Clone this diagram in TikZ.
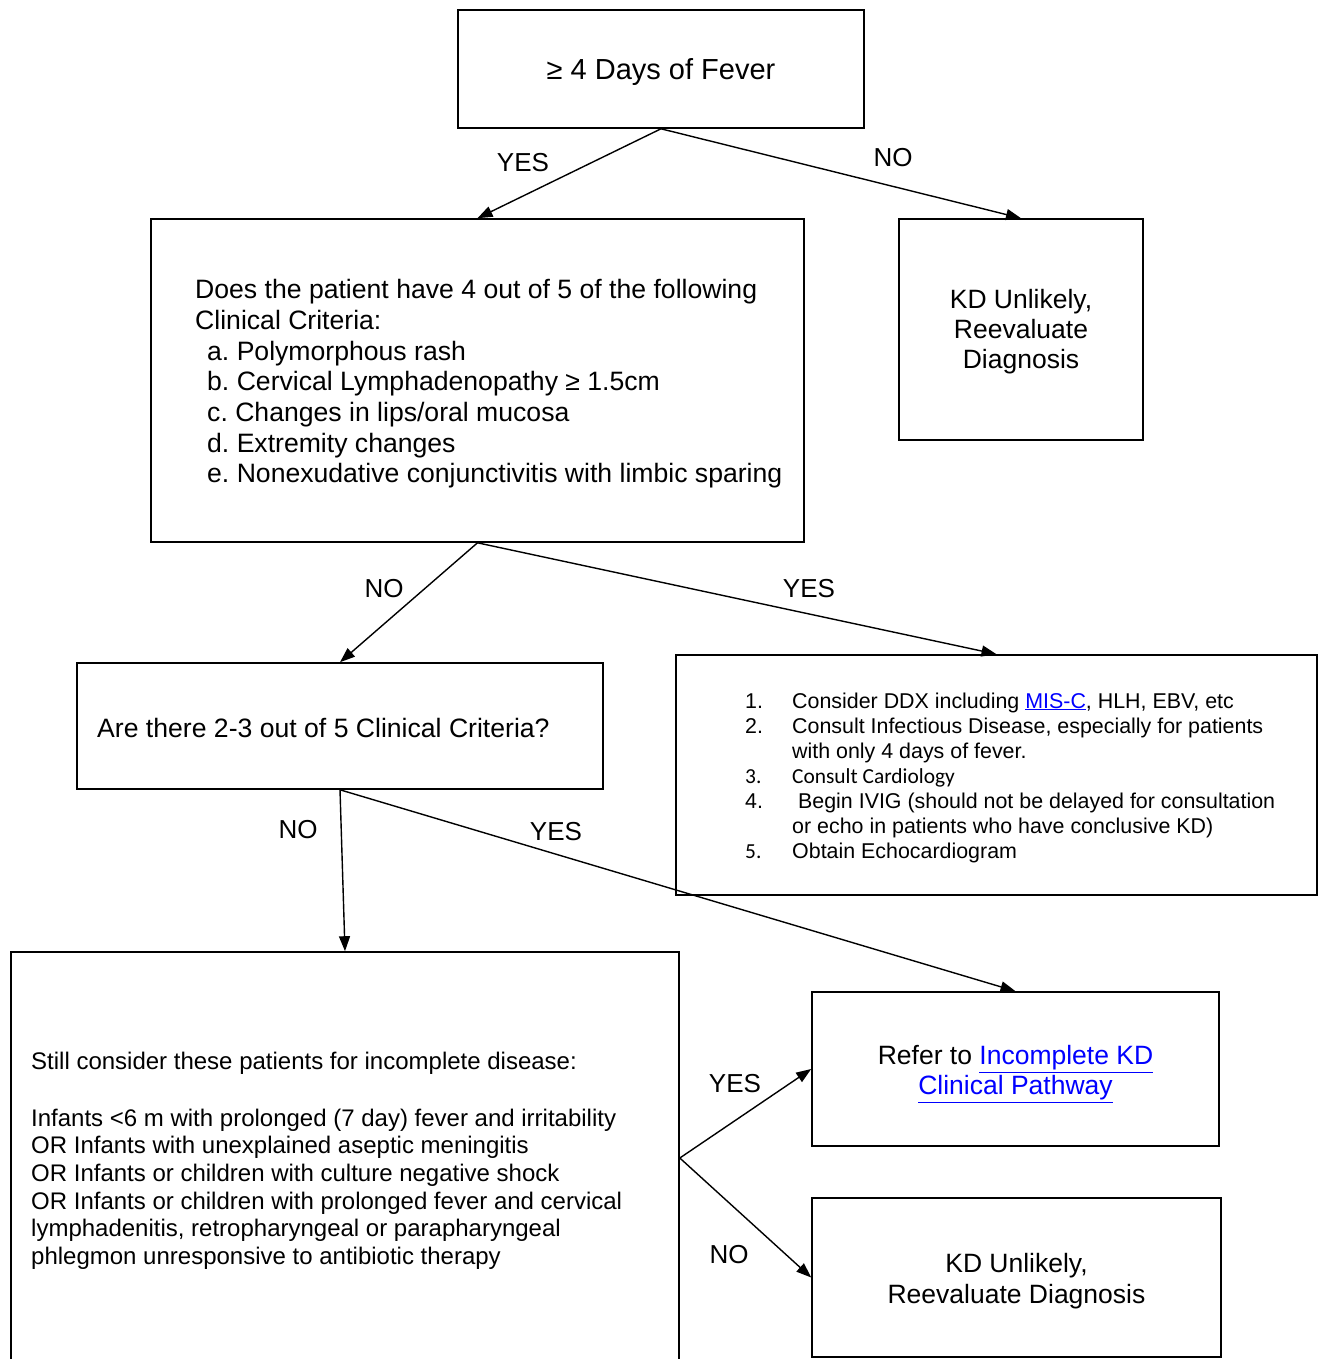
\documentclass[tikz,border=0pt]{standalone}
\usepackage{fontspec}
\setmainfont{Liberation Sans}
\newfontfamily\carlito{Carlito}
\usetikzlibrary{arrows.meta}
\definecolor{linkblue}{RGB}{0,0,255}
\newcommand{\lnk}[1]{\textcolor{linkblue}{\underline{#1}}}
\frenchspacing
\begin{document}
\begin{tikzpicture}[x=1pt,y=-1pt,
  box/.style={draw, line width=1.6pt, rectangle, inner sep=0pt},
  txt/.style={inner sep=0pt, align=left},
  ctxt/.style={inner sep=0pt, align=center},
  lbl/.style={inner sep=0pt, font=\fontsize{26}{30}\selectfont},
  arr/.style={line width=1.4pt, -{Triangle[length=15pt,width=11pt]}}]
\useasboundingbox[fill=white] (0,0) rectangle (1321,1359);

% boxes
\node[box, minimum width=406pt, minimum height=118pt] (fever) at (661,69) {};
\node[box, minimum width=653pt, minimum height=323pt] (crit) at (477.5,380.5) {};
\node[box, minimum width=244pt, minimum height=221pt] (kd1) at (1021,329.5) {};
\node[box, minimum width=526pt, minimum height=126pt] (are) at (340,726) {};
\node[box, minimum width=641pt, minimum height=240pt] (list) at (996.5,775) {};
\node[box, minimum width=668pt, minimum height=412pt] (bl) at (345,1158) {};
\node[box, minimum width=407pt, minimum height=154pt] (refer) at (1015.5,1069) {};
\node[box, minimum width=409pt, minimum height=159pt] (kd2) at (1016.5,1277.5) {};

% texts
\node[ctxt, font=\fontsize{29}{32}\selectfont] (fevert) at (661,72) {≥ 4 Days of Fever};
\node[ctxt, font=\fontsize{26.5}{30}\selectfont] (kd1t) at (1021,332) {KD Unlikely,\\ Reevaluate\\ Diagnosis};
\node[ctxt, font=\fontsize{26.5}{30}\selectfont] (refert) at (1015.5,1074) {Refer to \lnk{Incomplete KD}\\ \lnk{Clinical Pathway}};
\node[ctxt, font=\fontsize{26.5}{31}\selectfont] (kd2t) at (1016.5,1281) {KD Unlikely,\\ Reevaluate Diagnosis};
\node[txt, anchor=west, font=\fontsize{26.6}{30.7}\selectfont] (critt) at (195,384) {Does the patient have 4 out of 5 of the following\\
Clinical Criteria:\\
\hspace*{12pt}a. Polymorphous rash\\
\hspace*{12pt}b. Cervical Lymphadenopathy ≥ 1.5cm\\
\hspace*{12pt}c. Changes in lips/oral mucosa\\
\hspace*{12pt}d. Extremity changes\\
\hspace*{12pt}e. Nonexudative conjunctivitis with limbic sparing};
\node[txt, anchor=west, font=\fontsize{26.6}{30}\selectfont] (aret) at (97,728) {Are there 2-3 out of 5 Clinical Criteria?};
\node[txt, anchor=west, font=\fontsize{21.4}{25}\selectfont] (listt) at (745,778) {\begin{tabular}{@{}p{47pt}@{}l@{}}
1. & Consider DDX including \lnk{MIS-C}, HLH, EBV, etc\\
2. & Consult Infectious Disease, especially for patients\\
 & with only 4 days of fever.\\
{\carlito 3.} & {\carlito Consult Cardiology}\\
4. & \ Begin IVIG (should not be delayed for consultation\\
 & or echo in patients who have conclusive KD)\\
{\carlito 5.} & Obtain Echocardiogram
\end{tabular}};
\node[txt, anchor=west, font=\fontsize{24}{27.6}\selectfont] (blt) at (31,1160.5) {Still consider these patients for incomplete disease:\\[29.5pt]
Infants <6 m with prolonged (7 day) fever and irritability\\
OR Infants with unexplained aseptic meningitis\\
OR Infants or children with culture negative shock\\
OR Infants or children with prolonged fever and cervical\\
lymphadenitis, retropharyngeal or parapharyngeal\\
phlegmon unresponsive to antibiotic therapy};

% connectors
\draw[arr] (fever.south) -- (crit.north);
\draw[arr] (fever.south) -- (kd1.north);
\draw[arr] (crit.south) -- (are.north);
\draw[arr] (crit.south) -- (list.north);
\draw[arr] (are.south) -- (bl.north);
\draw[arr] (are.south) -- (refer.north);
\draw[arr] (bl.east) -- (refer.west);
\draw[arr] (bl.east) -- (kd2.west);

% labels
\node[lbl] (l1) at (523,163) {YES};
\node[lbl] (l2) at (893,158) {NO};
\node[lbl] (l3) at (384,589) {NO};
\node[lbl] (l4) at (809,589) {YES};
\node[lbl] (l5) at (298,830) {NO};
\node[lbl] (l6) at (556,832) {YES};
\node[lbl] (l7) at (735,1084) {YES};
\node[lbl] (l8) at (729,1255) {NO};
\end{tikzpicture}
\end{document}
